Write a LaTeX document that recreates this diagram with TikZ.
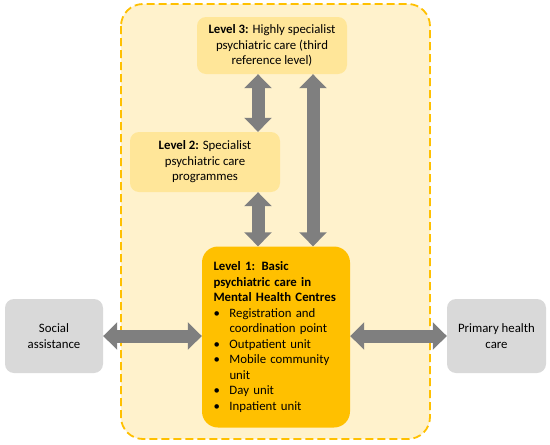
\documentclass[tikz,border=0pt]{standalone}
\usepackage{fontspec}
\setmainfont{Carlito}
\usetikzlibrary{arrows.meta}
\definecolor{paleyellow}{HTML}{FFF2CC}
\definecolor{lightgold}{HTML}{FFE699}
\definecolor{gold}{HTML}{FFC000}
\definecolor{boxgray}{HTML}{D9D9D9}
\definecolor{arrowgray}{HTML}{7F7F7F}
\newcommand{\lvlbullet}{\makebox[16pt][l]{\textbullet}}
\begin{document}
\begin{tikzpicture}[x=1pt,y=-1pt,
  level/.style={fill=#1,rounded corners=9pt,align=center,font=\fontsize{12.8}{15.5}\selectfont},
  both/.style={draw=arrowgray,line width=13pt,{Triangle[width=27pt,length=14pt]}-{Triangle[width=27pt,length=14pt]}}]
\useasboundingbox (0,0) rectangle (550,445);
\draw[draw=gold,fill=paleyellow,line width=1.8pt,dash pattern=on 8pt off 4pt,rounded corners=22pt] (121,4) rectangle (430,439);
\node[level=lightgold,minimum width=150pt,minimum height=57pt] (l3) at (272,45.5) {\textbf{Level 3:} Highly specialist\\psychiatric care (third\\reference level)};
\node[level=lightgold,minimum width=150pt,minimum height=60pt] (l2) at (205,162) {\textbf{Level 2:} Specialist\\psychiatric care\\programmes};
\node[level=gold,rounded corners=16pt,minimum width=148pt,minimum height=181pt,text width=125pt,align=left] (l1) at (276,337) {\textbf{Level 1: Basic\\psychiatric care in\\Mental Health Centres}\\
  \lvlbullet Registration and\\\hspace*{16pt}coordination point\\
  \lvlbullet Outpatient unit\\
  \lvlbullet Mobile community\\\hspace*{16pt}unit\\
  \lvlbullet Day unit\\
  \lvlbullet Inpatient unit};
\node[level=boxgray,minimum width=98pt,minimum height=74pt] (sa) at (54,336) {Social\\assistance};
\node[level=boxgray,minimum width=99pt,minimum height=74pt] (ph) at (496.5,336) {Primary health\\care};
\draw[both] ([xshift=-14pt]l3.south) -- ([xshift=-14pt]l3.south |- l2.north);
\draw[both] ([xshift=53pt]l2.south) -- ([xshift=53pt]l2.south |- l1.north);
\draw[both] ([xshift=41pt]l3.south) -- ([xshift=41pt]l3.south |- l1.north);
\draw[both] (sa.east) -- (sa.east -| l1.west);
\draw[both] (l1.east |- ph.west) -- (ph.west);
\end{tikzpicture}
\end{document}
